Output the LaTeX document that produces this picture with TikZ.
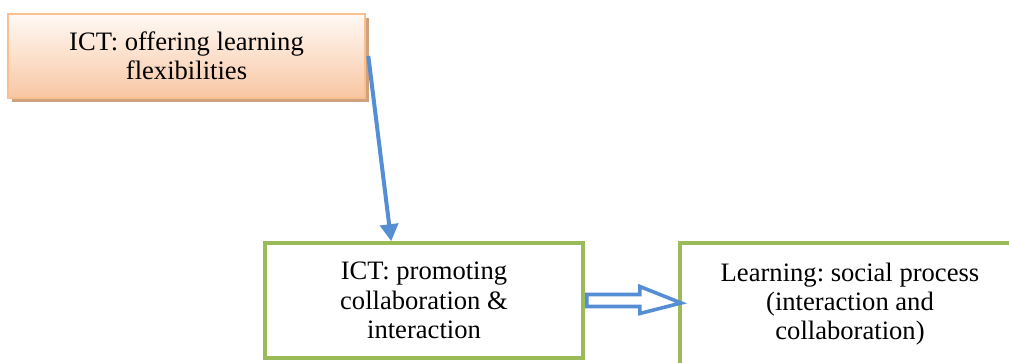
\documentclass[tikz,border=0pt]{standalone}
\usepackage{fontspec}
\setmainfont{Liberation Serif}
\usetikzlibrary{calc,shadows,arrows.meta}
\definecolor{peachedge}{HTML}{FAC090}
\definecolor{peachfill}{HTML}{F8C6A2}
\definecolor{peachtop}{HTML}{FFF9F5}
\definecolor{tanshadow}{HTML}{CFA27E}
\definecolor{leafgreen}{HTML}{9BBB59}
\definecolor{flowblue}{HTML}{558ED5}
\frenchspacing
\tikzset{
  boxtext/.style={font=\fontsize{13.3}{14.6}\selectfont, align=center, text=black},
  peachbox/.style={boxtext, draw=peachedge, line width=1.3pt,
    top color=peachtop, bottom color=peachfill,
    drop shadow={shadow xshift=1.8pt, shadow yshift=-1.8pt, opacity=1, fill=tanshadow}},
  greenbox/.style={boxtext, draw=leafgreen, line width=1.8pt, fill=white},
  linkarrow/.style={draw=flowblue, line width=2pt,
    -{Triangle[width=9pt,length=8.5pt]}},
  blockarrow/.style={draw=flowblue, line width=1.8pt, fill=white, line join=miter}
}
\begin{document}
\begin{tikzpicture}[x=0.5pt,y=-0.5pt]
  \useasboundingbox (0,0) rectangle (1009,363);
  \clip (0,0) rectangle (1009,363);

  % boxes
  \node[peachbox, minimum width=178.5pt, minimum height=42pt, inner sep=0pt]
    (offer) at (186.5,56) {ICT: offering learning\\flexibilities};
  \node[greenbox, minimum width=159pt, minimum height=57.5pt, inner sep=0pt]
    (promote) at (424,300.5) {ICT: promoting\\collaboration \&\\interaction};
  \node[greenbox, minimum width=170pt, minimum height=61pt, inner sep=0pt]
    (social) at (850,304) {Learning: social process\\(interaction and\\collaboration)};

  % thin arrow from the top box down to the middle box
  \coordinate (from) at ($(offer.east)+(2,0)$);
  \coordinate (to) at ($(promote.north west)+(128,0)$);
  \draw[linkarrow] (from) -- (to);

  % hollow block arrow between the two lower boxes
  \coordinate (bs) at ($(promote.east)+(2,0)$);
  \coordinate (bt) at ($(social.west)+(3,-1)$);
  \draw[blockarrow]
    ($(bs)+(0,-6)$) -- ($(bs)+(53,-6)$) -- ($(bs)+(53,-14)$) -- (bt)
    -- ($(bs)+(53,13)$) -- ($(bs)+(53,6)$) -- ($(bs)+(0,6)$) -- cycle;
\end{tikzpicture}
\end{document}
